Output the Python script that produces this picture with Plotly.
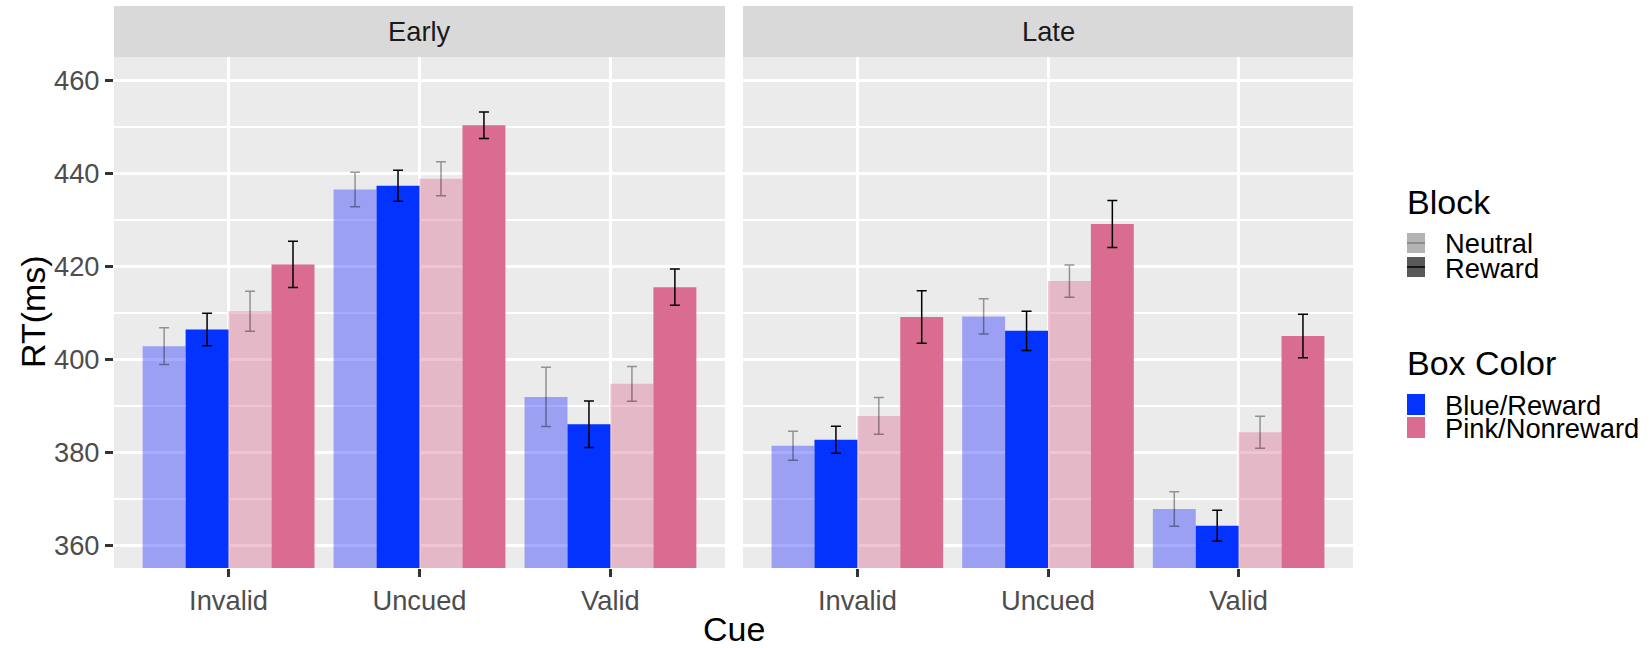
import plotly.graph_objects as go

# ---- data ---------------------------------------------------------------
cues = ["Invalid", "Uncued", "Valid"]
periods = ["Early", "Late"]

# mean RT (ms) and standard error per cue, by box colour x block
blue_neutral = {"Early": [402.9, 436.6, 392.0], "Late": [381.5, 409.3, 367.9]}
blue_neutral_se = {"Early": [3.95, 3.7, 6.35], "Late": [3.1, 3.8, 3.7]}
blue_reward = {"Early": [406.5, 437.4, 386.1], "Late": [382.8, 406.2, 364.3]}
blue_reward_se = {"Early": [3.5, 3.35, 5.0], "Late": [2.9, 4.2, 3.3]}
pink_neutral = {"Early": [410.4, 438.9, 394.8], "Late": [387.9, 416.9, 384.4]}
pink_neutral_se = {"Early": [4.3, 3.65, 3.75], "Late": [3.95, 3.45, 3.45]}
pink_reward = {"Early": [420.5, 450.4, 415.6], "Late": [409.2, 429.2, 405.1]}
pink_reward_se = {"Early": [5.0, 2.85, 3.9], "Late": [5.65, 5.05, 4.7]}

y_ticks = [360, 380, 400, 420, 440, 460]
y_minor = [370, 390, 410, 430, 450]
y_range = [355.2, 465.1]

# ---- styling ------------------------------------------------------------
FONT = "Liberation Sans, Arial, Helvetica, sans-serif"
BLUE = "rgb(4,50,255)"
PINK = "rgb(217,108,144)"
BLUE_LIGHT = "rgba(35,48,255,0.4)"
PINK_LIGHT = "rgba(217,108,146,0.4)"
ERR_DARK = "rgba(0,0,0,1)"
ERR_LIGHT = "rgba(0,0,0,0.38)"
PANEL_BG = "#EBEBEB"
STRIP_BG = "#D9D9D9"

W, H = 1652, 648
ML, MR, MT, MB = 114, 299, 6, 80
PW, PH = W - ML - MR, H - MT - MB
panel_px = {"Early": (114, 725), "Late": (743, 1353)}
strip_h = 51
ydom_top = (PH - strip_h) / PH


def px_x(px):
    return (px - ML) / PW


def px_y(py):
    return (H - MB - py) / PH


fig = go.Figure()

series = [
    ("Blue/Reward", "Neutral", blue_neutral, blue_neutral_se, BLUE_LIGHT, ERR_LIGHT),
    ("Blue/Reward", "Reward", blue_reward, blue_reward_se, BLUE, ERR_DARK),
    ("Pink/Nonreward", "Neutral", pink_neutral, pink_neutral_se, PINK_LIGHT, ERR_LIGHT),
    ("Pink/Nonreward", "Reward", pink_reward, pink_reward_se, PINK, ERR_DARK),
]

xpos = list(range(len(cues)))
for i, period in enumerate(periods):
    ax = "" if i == 0 else str(i + 1)
    for color_name, block, vals, ses, fill, ecol in series:
        fig.add_trace(go.Bar(
            x=xpos, y=vals[period],
            xaxis="x" + ax, yaxis="y" + ax,
            marker=dict(color=fill, line=dict(width=0)),
            error_y=dict(type="data", array=ses[period], visible=True,
                         color=ecol, thickness=1.5, width=5),
            name=f"{color_name} {block}", showlegend=False,
            hoverinfo="skip",
        ))

axis_common = dict(
    showline=False, zeroline=False,
    gridcolor="white", gridwidth=3,
    ticks="outside", ticklen=8, tickwidth=3, tickcolor="#333333",
    tickfont=dict(family=FONT, size=27.3, color="#4D4D4D"),
)

layout = dict(
    width=W, height=H,
    margin=dict(l=ML, r=MR, t=MT, b=MB),
    paper_bgcolor="white", plot_bgcolor=PANEL_BG,
    barmode="group", bargap=0.1, bargroupgap=0,
    font=dict(family=FONT, color="black"),
    showlegend=False,
)

for i, period in enumerate(periods):
    sfx = "" if i == 0 else str(i + 1)
    x0, x1 = panel_px[period]
    layout["xaxis" + sfx] = dict(
        axis_common,
        domain=[px_x(x0), px_x(x1)],
        anchor="y" + sfx,
        range=[-0.6, len(cues) - 0.4],
        tickmode="array", tickvals=xpos, ticktext=cues,
        showgrid=True,
    )
    ydict = dict(
        axis_common,
        domain=[0, ydom_top],
        anchor="x" + sfx,
        range=y_range,
        tickmode="array", tickvals=y_ticks,
        showgrid=True,
        minor=dict(tickmode="array", tickvals=y_minor,
                   showgrid=True, gridcolor="white", gridwidth=1.5, ticks=""),
    )
    if i == 1:
        ydict.update(showticklabels=False, ticks="", matches="y")
    layout["yaxis" + sfx] = ydict

fig.update_layout(**layout)

shapes = []
annotations = []

# facet strips
for period in periods:
    x0, x1 = panel_px[period]
    shapes.append(dict(type="rect", xref="paper", yref="paper",
                       x0=px_x(x0), x1=px_x(x1), y0=ydom_top, y1=1,
                       fillcolor=STRIP_BG, line=dict(width=0), layer="below"))
    annotations.append(dict(text=period, xref="paper", yref="paper",
                            x=px_x((x0 + x1) / 2), y=(ydom_top + 1) / 2,
                            xanchor="center", yanchor="middle", showarrow=False,
                            font=dict(family=FONT, size=27.3, color="#1A1A1A")))

# axis titles
annotations.append(dict(text="Cue", xref="paper", yref="paper",
                        x=px_x(733.5), y=px_y(629), xanchor="center", yanchor="middle",
                        showarrow=False, font=dict(family=FONT, size=34, color="black")))
annotations.append(dict(text="RT(ms)", xref="paper", yref="paper",
                        x=px_x(33), y=px_y(312), xanchor="center", yanchor="middle",
                        textangle=-90, showarrow=False,
                        font=dict(family=FONT, size=34, color="black")))

# legends
key_x0, key_x1 = 1407, 1425
text_x = 1443


def legend_title(text, cy):
    annotations.append(dict(text=text, xref="paper", yref="paper",
                            x=px_x(key_x0 - 2), y=px_y(cy), xanchor="left", yanchor="middle",
                            showarrow=False, font=dict(family=FONT, size=34, color="black")))


def legend_item(text, y0, y1, fill, line_col=None):
    shapes.append(dict(type="rect", xref="paper", yref="paper",
                       x0=px_x(key_x0), x1=px_x(key_x1), y0=px_y(y1), y1=px_y(y0),
                       fillcolor=fill, line=dict(width=0)))
    if line_col:
        cy = (y0 + y1) / 2
        shapes.append(dict(type="line", xref="paper", yref="paper",
                           x0=px_x(key_x0), x1=px_x(key_x1), y0=px_y(cy), y1=px_y(cy),
                           line=dict(color=line_col, width=1.5)))
    annotations.append(dict(text=text, xref="paper", yref="paper",
                            x=px_x(text_x), y=px_y((y0 + y1) / 2 + 1), xanchor="left",
                            yanchor="middle", showarrow=False,
                            font=dict(family=FONT, size=27.3, color="black")))


legend_title("Block", 202)
legend_item("Neutral", 233, 253, "#B3B3B3", "#7F7F7F")
legend_item("Reward", 257, 277, "#595959", "#000000")
legend_title("Box Color", 363)
legend_item("Blue/Reward", 394, 415, BLUE)
legend_item("Pink/Nonreward", 417, 438, PINK)

fig.update_layout(shapes=shapes, annotations=annotations)

fig.write_html("out.html")
